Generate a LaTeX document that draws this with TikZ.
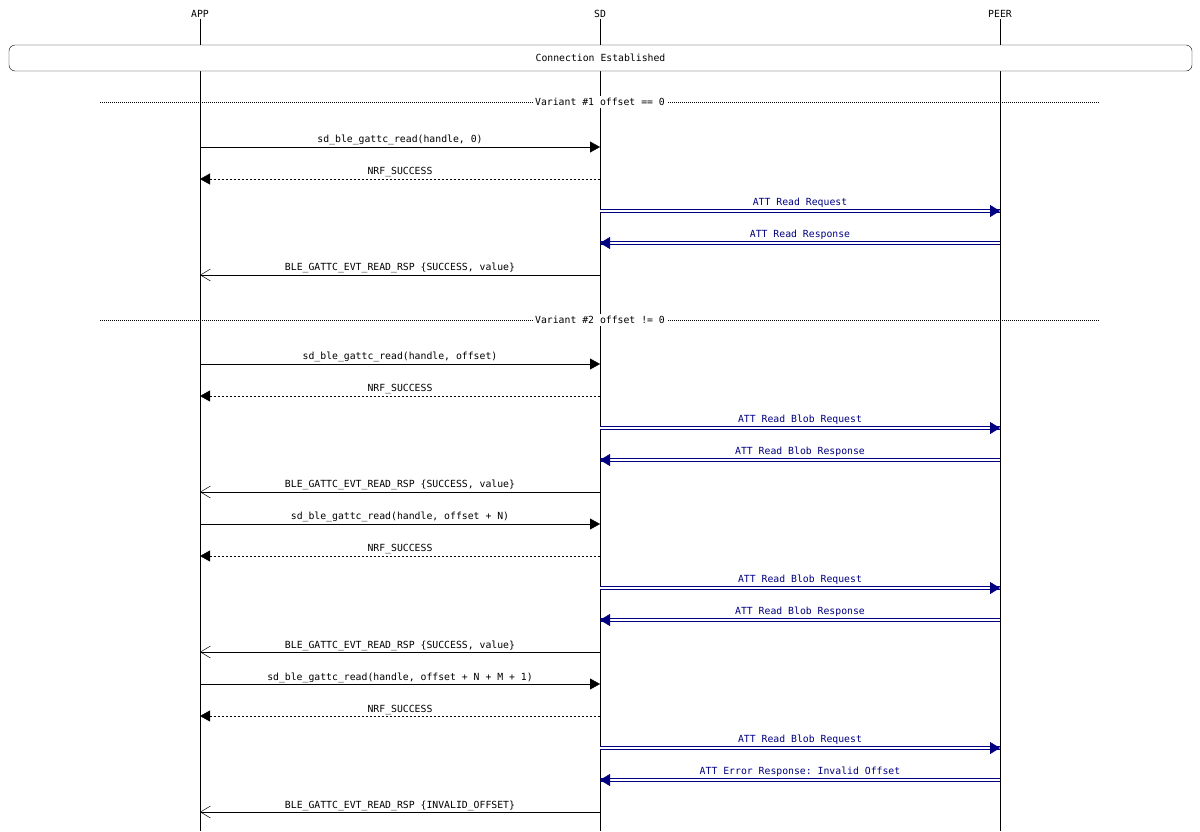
\documentclass[tikz,border=0pt]{standalone}
\usepackage{fontspec}
\setmonofont{DejaVu Sans Mono}
\usetikzlibrary{arrows.meta,positioning}
\definecolor{attblue}{RGB}{0,0,128}

\begin{document}
\begin{tikzpicture}[x=1pt,y=-1pt,font=\fontsize{9.8}{11}\selectfont\ttfamily]
  \useasboundingbox (0,0) rectangle (1200,831);
  \tikzset{
    entity/.style={inner sep=1pt},
    call/.style={-{Triangle[length=10pt,width=11pt]}},
    retval/.style={dash pattern=on 2pt off 2pt,-{Triangle[length=10pt,width=11pt]}},
    event/.style={-{Straight Barb[length=10pt,width=12pt,line width=0.5pt]}},
    air/.style={draw=white,line width=1.2pt,
      -{Triangle[length=10pt,width=12pt,color=attblue,line width=0.4pt]},
      preaction={draw=attblue,line width=0.7pt,-,transform canvas={yshift=1.2pt}},
      preaction={draw=attblue,line width=0.7pt,-,transform canvas={yshift=-1.2pt}}},
    msglabel/.style={midway,above,inner sep=1.5pt},
    airlabel/.style={msglabel,text=attblue,yshift=1pt},
    divider/.style={dash pattern=on 1pt off 1pt}
  }

  % Entities
  \node [entity] (app)  at (200,14)  {APP};
  \node [entity] (sd)   at (600,14)  {SD};
  \node [entity] (peer) at (1000,14) {PEER};
  \coordinate (append)  at (200,831);
  \coordinate (sdend)   at (600,831);
  \coordinate (peerend) at (1000,831);
  \draw (app.south)  -- (append);
  \draw (sd.south)   -- (sdend);
  \draw (peer.south) -- (peerend);

  % Connection box
  \node [draw,fill=white,rounded corners=6pt,minimum width=1183pt,minimum height=26pt]
    (conn) at (600.5,58) {Connection Established};

  % Variant #1
  \coordinate (v1l) at (100,102);
  \coordinate (v1r) at (1100,102);
  \draw [divider] (v1l) -- (v1r);
  \node [fill=white,inner sep=2pt] (v1) at (600,102) {Variant \#1 offset == 0};

  \draw [call]   (app |- 0,147) -- (sd |- 0,147)   node[msglabel] {sd\_ble\_gattc\_read(handle, 0)};
  \draw [retval] (sd |- 0,179)  -- (app |- 0,179)  node[msglabel] {NRF\_SUCCESS};
  \draw [air]    (sd |- 0,211)  -- (peer |- 0,211) node[airlabel] {ATT Read Request};
  \draw [air]    (peer |- 0,243) -- (sd |- 0,243)  node[airlabel] {ATT Read Response};
  \draw [event]  (sd |- 0,275)  -- (app |- 0,275)  node[msglabel] {BLE\_GATTC\_EVT\_READ\_RSP \{SUCCESS, value\}};

  % Variant #2
  \coordinate (v2l) at (100,320);
  \coordinate (v2r) at (1100,320);
  \draw [divider] (v2l) -- (v2r);
  \node [fill=white,inner sep=2pt] (v2) at (600,320) {Variant \#2 offset != 0};

  \draw [call]   (app |- 0,364) -- (sd |- 0,364)   node[msglabel] {sd\_ble\_gattc\_read(handle, offset)};
  \draw [retval] (sd |- 0,396)  -- (app |- 0,396)  node[msglabel] {NRF\_SUCCESS};
  \draw [air]    (sd |- 0,428)  -- (peer |- 0,428) node[airlabel] {ATT Read Blob Request};
  \draw [air]    (peer |- 0,460) -- (sd |- 0,460)  node[airlabel] {ATT Read Blob Response};
  \draw [event]  (sd |- 0,492)  -- (app |- 0,492)  node[msglabel] {BLE\_GATTC\_EVT\_READ\_RSP \{SUCCESS, value\}};

  \draw [call]   (app |- 0,524) -- (sd |- 0,524)   node[msglabel] {sd\_ble\_gattc\_read(handle, offset + N)};
  \draw [retval] (sd |- 0,556)  -- (app |- 0,556)  node[msglabel] {NRF\_SUCCESS};
  \draw [air]    (sd |- 0,588)  -- (peer |- 0,588) node[airlabel] {ATT Read Blob Request};
  \draw [air]    (peer |- 0,620) -- (sd |- 0,620)  node[airlabel] {ATT Read Blob Response};
  \draw [event]  (sd |- 0,652)  -- (app |- 0,652)  node[msglabel] {BLE\_GATTC\_EVT\_READ\_RSP \{SUCCESS, value\}};

  \draw [call]   (app |- 0,684) -- (sd |- 0,684)   node[msglabel] {sd\_ble\_gattc\_read(handle, offset + N + M + 1)};
  \draw [retval] (sd |- 0,716)  -- (app |- 0,716)  node[msglabel] {NRF\_SUCCESS};
  \draw [air]    (sd |- 0,748)  -- (peer |- 0,748) node[airlabel] {ATT Read Blob Request};
  \draw [air]    (peer |- 0,780) -- (sd |- 0,780)  node[airlabel] {ATT Error Response: Invalid Offset};
  \draw [event]  (sd |- 0,812)  -- (app |- 0,812)  node[msglabel] {BLE\_GATTC\_EVT\_READ\_RSP \{INVALID\_OFFSET\}};
\end{tikzpicture}
\end{document}
